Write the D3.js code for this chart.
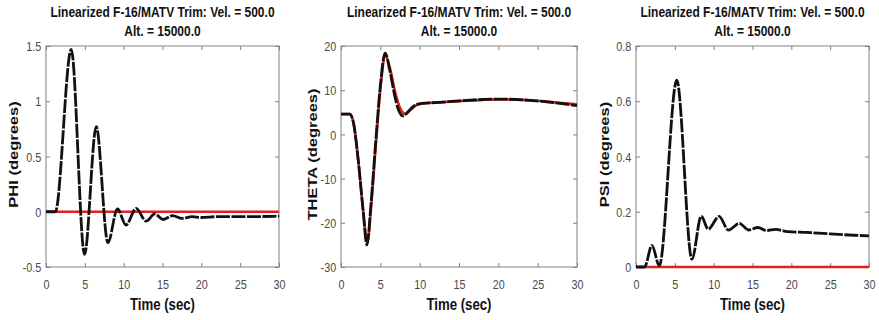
<!DOCTYPE html>
<html lang="en">
<head>
    <meta charset="UTF-8">
    <title>Linearized F-16/MATV Trim</title>
    <script src="https://d3js.org/d3.v7.min.js"></script>
    <style>
        body {
            margin: 0;
            background: #fff;
            font-family: "Liberation Sans", Arial, sans-serif;
        }
        .title {
            font-size: 15px;
            font-weight: bold;
            text-anchor: middle;
            fill: #111;
        }
        .axis-label {
            font-size: 16.5px;
            font-weight: bold;
            text-anchor: middle;
            fill: #111;
        }
        .tick text {
            font-size: 13.5px;
            fill: #4a4a4a;
        }
        .tick line {
            stroke: #808080;
        }
        .frame {
            fill: none;
            stroke: #808080;
            stroke-width: 1;
        }
        .lin {
            fill: none;
            stroke: #e0211d;
            stroke-width: 2.5;
        }
        .nonlin {
            fill: none;
            stroke: #111;
            stroke-width: 2.8;
            stroke-dasharray: 14,1.5;
        }
    </style>
</head>
<body>
    <svg id="chart" width="879" height="320"></svg>
    <script>
        // tick labels
        var timeTicks = [0, 5, 10, 15, 20, 25, 30];
        var phiTicks = [-0.5, 0, 0.5, 1, 1.5];
        var thetaTicks = [-30, -20, -10, 0, 10, 20];
        var psiTicks = [0, 0.2, 0.4, 0.6, 0.8];

        // PHI: nonlinear (black dashed) and linear (red)
        var phiTime = [0, 1.2, 3.25, 4.96, 6.47, 7.97, 9.2, 10.3, 11.6, 12.9, 14.0, 15.1, 16.3, 17.5, 18.8, 20, 22, 25, 30];
        var phiNonlin = [0, 0, 1.47, -0.385, 0.77, -0.28, 0.025, -0.12, 0.03, -0.085, -0.02, -0.07, -0.035, -0.06, -0.045, -0.052, -0.045, -0.045, -0.04];
        var phiLinTime = [0, 30];
        var phiLin = [0, 0];

        // THETA
        var thetaTime = [0, 1.1, 1.6, 2.2, 2.8, 3.3, 3.8, 4.4, 5.0, 5.6, 6.2, 6.8, 7.3, 7.9, 8.6, 9.3, 10.3, 12, 15, 18, 20, 24, 27, 30];
        var thetaNonlin = [4.6, 4.6, 2.5, -6, -17, -25, -16, -2, 11, 18.4, 14.5, 9, 5.6, 4.2, 5.3, 6.5, 7.0, 7.2, 7.6, 7.9, 8.0, 7.7, 7.2, 6.5];
        var thetaLinTime = [0, 1.1, 1.6, 2.2, 2.8, 3.35, 3.85, 4.45, 5.05, 5.65, 6.3, 6.9, 7.5, 8.2, 8.9, 9.6, 10.5, 12, 15, 18, 20, 24, 27, 30];
        var thetaLin = [4.6, 4.6, 2.5, -6, -17, -24.5, -16, -2, 11, 17.8, 14.5, 9.5, 6, 4.6, 5.6, 6.6, 7.0, 7.2, 7.5, 7.8, 7.9, 7.7, 7.3, 6.8];

        // PSI
        var psiTime = [0, 1.1, 2.05, 3.0, 5.25, 7.2, 8.4, 9.3, 10.7, 11.9, 13.3, 14.5, 15.7, 16.8, 18, 19.5, 22, 25, 28, 30];
        var psiNonlin = [0, 0, 0.078, 0.005, 0.676, 0.028, 0.184, 0.137, 0.183, 0.134, 0.158, 0.134, 0.143, 0.132, 0.136, 0.128, 0.125, 0.12, 0.115, 0.113];
        var psiLinTime = [0, 30];
        var psiLin = [0, 0];

        var titleLine1 = "Linearized F-16/MATV Trim: Vel. = 500.0";
        var titleLine2 = "Alt. = 15000.0";
        var xLabel = "Time (sec)";

        var panels = [
            {left: 46, right: 279, yTicks: phiTicks, label: "PHI (degrees)", labelOff: 28,
             nT: phiTime, nV: phiNonlin, lT: phiLinTime, lV: phiLin},
            {left: 341, right: 577, yTicks: thetaTicks, label: "THETA (degrees)", labelOff: 24.5,
             nT: thetaTime, nV: thetaNonlin, lT: thetaLinTime, lV: thetaLin},
            {left: 636, right: 869, yTicks: psiTicks, label: "PSI (degrees)", labelOff: 27.5,
             nT: psiTime, nV: psiNonlin, lT: psiLinTime, lV: psiLin}
        ];

        var plotTop = 46, plotBottom = 267, squeeze = 0.8;
        var fmt = function(d) { return String(d); };
        var svg = d3.select("#chart");

        panels.forEach(function(p) {
            var x = d3.scaleLinear().domain([0, 30]).range([p.left, p.right]);
            var y = d3.scaleLinear().domain(d3.extent(p.yTicks)).range([plotBottom, plotTop]);
            var cx = (p.left + p.right) / 2;
            var g = svg.append("g");

            // ticks, MATLAB style (inside, all four sides)
            g.append("g").attr("transform", "translate(0," + plotBottom + ")")
                .call(d3.axisBottom(x).tickValues(timeTicks).tickSize(-4).tickSizeOuter(0).tickPadding(12).tickFormat(fmt));
            var yl = g.append("g").attr("transform", "translate(" + p.left + ",0)")
                .call(d3.axisLeft(y).tickValues(p.yTicks).tickSize(-4).tickSizeOuter(0).tickPadding(6).tickFormat(fmt));
            g.append("g").attr("transform", "translate(0," + plotTop + ")")
                .call(d3.axisTop(x).tickValues(timeTicks).tickSize(-4).tickSizeOuter(0).tickFormat(""));
            g.append("g").attr("transform", "translate(" + p.right + ",0)")
                .call(d3.axisRight(y).tickValues(p.yTicks).tickSize(-4).tickSizeOuter(0).tickFormat(""));
            g.selectAll(".domain").remove();
            g.selectAll(".tick text").attr("font-family", null).attr("font-size", null)
                .attr("transform", "scale(" + squeeze + ",1)");
            yl.selectAll(".tick text").attr("dy", "0.35em");

            g.append("rect").attr("class", "frame")
                .attr("x", p.left).attr("y", plotTop)
                .attr("width", p.right - p.left).attr("height", plotBottom - plotTop);

            var line = d3.line().curve(d3.curveMonotoneX)
                .x(function(d) { return x(d[0]); })
                .y(function(d) { return y(d[1]); });

            g.append("path").attr("class", "lin")
                .attr("d", line(p.lT.map(function(t, i) { return [t, p.lV[i]]; })));
            g.append("path").attr("class", "nonlin")
                .attr("d", line(p.nT.map(function(t, i) { return [t, p.nV[i]]; })));

            // titles and labels (source image is horizontally compressed)
            g.append("text").attr("class", "title")
                .attr("transform", "translate(" + cx + ",17) scale(" + squeeze + ",1)")
                .text(titleLine1);
            g.append("text").attr("class", "title")
                .attr("transform", "translate(" + cx + ",36) scale(" + squeeze + ",1)")
                .text(titleLine2);
            g.append("text").attr("class", "axis-label")
                .attr("transform", "translate(" + cx + ",310) scale(" + squeeze + ",1)")
                .text(xLabel);
            g.append("text").attr("class", "axis-label")
                .attr("transform", "translate(" + (p.left - p.labelOff) + "," + ((plotTop + plotBottom) / 2 - 2) + ") scale(" + squeeze + ",1) rotate(-90)")
                .text(p.label);
        });
    </script>
</body>
</html>
